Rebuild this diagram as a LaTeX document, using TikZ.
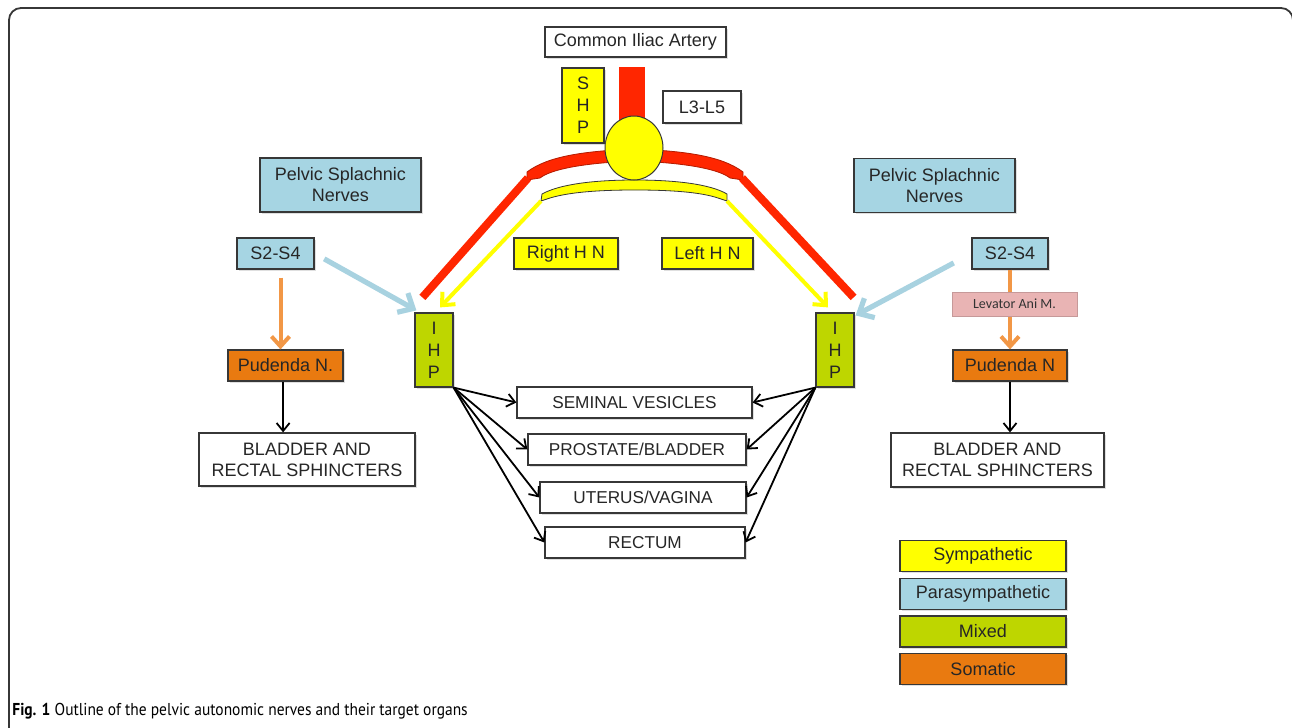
\documentclass[tikz,border=0pt]{standalone}
\usepackage{fontspec}
\setmainfont{Liberation Sans}
\newfontfamily\capfont[FakeStretch=0.9]{PT Sans}
\newfontfamily\calfont{Carlito}
\usepackage{tikz}
\usetikzlibrary{matrix,arrows.meta,shadows,shapes.geometric}
\definecolor{symp}{RGB}{255,255,0}
\definecolor{para}{RGB}{166,213,227}
\definecolor{mixd}{RGB}{190,214,0}
\definecolor{soma}{RGB}{233,122,16}
\definecolor{somaarrow}{RGB}{242,151,70}
\definecolor{paraarrow}{RGB}{168,210,224}
\definecolor{artery}{RGB}{255,38,0}
\definecolor{levator}{RGB}{233,180,180}
\definecolor{boxline}{RGB}{55,55,55}

\begin{document}
\begin{tikzpicture}[x=0.5pt,y=-0.5pt,font=\fontsize{9}{10.5}\selectfont,
box/.style={draw=boxline, line width=0.6pt, fill=white, inner sep=0pt, align=center, text=black!85,
    drop shadow={shadow xshift=0.8pt, shadow yshift=-0.8pt, opacity=0.25}},
organ/.style={box, minimum height=15.5pt, font=\fontsize{8.6}{10}\selectfont},
arteryline/.style={artery, line width=4pt},
hn/.style={symp, line width=2pt, -{Straight Barb[length=5pt,width=9pt]}},
pn/.style={paraarrow, line width=2.6pt, -{Straight Barb[length=6pt,width=11pt]}},
sn/.style={somaarrow, line width=2pt, -{Straight Barb[length=5pt,width=9pt]}},
target/.style={black, line width=0.9pt, -{Straight Barb[length=4pt,width=6.5pt]}},
legend/.style={matrix of nodes, nodes={box, minimum width=83pt, minimum height=15.5pt, anchor=center},
    row sep=2.8pt,
    row 1/.style={nodes={fill=symp}}, row 2/.style={nodes={fill=para}},
    row 3/.style={nodes={fill=mixd}}, row 4/.style={nodes={fill=soma}}}]
\useasboundingbox (0,0) rectangle (1292,728);
\draw[boxline, line width=0.9pt, rounded corners=6pt] (9,745) -- (9,8) -- (1293,8) -- (1293,745);

% arteries and hypogastric plexus
\fill[artery] (619,67) rectangle (645,135);
\filldraw[fill=artery, draw=artery!70!black, line width=0.4pt] (527,180) -- (527,172)
  .. controls (548,156) and (585,151) .. (635,149) .. controls (685,151) and (722,156) .. (743,172)
  -- (743,180) -- (730,178) .. controls (720,170) and (690,163) .. (635,161)
  .. controls (580,163) and (550,170) .. (540,178) -- cycle;
\coordinate (redL) at (528,178);
\coordinate (redR) at (742,178);
\coordinate (yelL) at (541,201);
\coordinate (yelR) at (727,201);
\filldraw[fill=symp, draw=boxline, line width=0.4pt] (541,201) -- (542,194)
  .. controls (560,184) and (595,180) .. (635,180) .. controls (675,180) and (710,184) .. (727,194)
  -- (727,201) -- (718,198) .. controls (700,192) and (670,190) .. (635,190)
  .. controls (600,190) and (570,192) .. (550,198) -- cycle;
\node[ellipse, draw=boxline, line width=0.5pt, fill=symp, minimum width=29pt, minimum height=32pt, inner sep=0pt] (knot) at (634,148) {};

\node[box] (cia) at (635.5,42) [minimum width=90.5pt, minimum height=15pt] {Common Iliac Artery};
\node[box, fill=symp, minimum width=21pt, minimum height=37.5pt, font=\fontsize{9}{11}\selectfont] (shp) at (583,105.5) {S\\H\\P};
\node[box, minimum width=39pt, minimum height=16pt] (lum) at (702,107) {L3-L5};
\node[box, fill=symp, minimum width=52pt, minimum height=15.5pt] (rhn) at (566,253.5) {Right H N};
\node[box, fill=symp, minimum width=45.5pt, minimum height=15.5pt] (lhn) at (707.5,253.5) {Left H N};

\node[box, fill=mixd, minimum width=19pt, minimum height=37pt, font=\fontsize{9}{11}\selectfont] (ihpL) at (434,350) {I\\H\\P};
\node[box, fill=mixd, minimum width=19pt, minimum height=37pt, font=\fontsize{9}{11}\selectfont] (ihpR) at (835,350) {I\\H\\P};

\draw[arteryline] (redL) -- ([shift={(8,-15)}]ihpL.north west);
\draw[arteryline] (redR) -- ([shift={(-1,-15)}]ihpR.north east);
\draw[hn] (yelL) -- ([shift={(6,-5)}]ihpL.north);
\draw[hn] (yelR) -- ([shift={(-7,-5)}]ihpR.north);

% parasympathetic and somatic side
\node[box, fill=para, minimum width=80.5pt, minimum height=27pt] (psnL) at (340.5,185) {Pelvic Splachnic\\Nerves};
\node[box, fill=para, minimum width=80.5pt, minimum height=27pt] (psnR) at (934.5,185.5) {Pelvic Splachnic\\Nerves};
\node[box, fill=para, minimum width=38.5pt, minimum height=15.5pt] (s2L) at (275.5,253.5) {S2-S4};
\node[box, fill=para, minimum width=38pt, minimum height=15.5pt] (s2R) at (1010,253.5) {S2-S4};
\node[box, fill=soma, minimum width=57.5pt, minimum height=15.5pt] (pudL) at (285.5,365.5) {Pudenda N.};
\node[box, fill=soma, minimum width=57pt, minimum height=15.5pt] (pudR) at (1010,365.5) {Pudenda N};
\node[box, minimum width=108pt, minimum height=26.5pt] (bladL) at (307,459.5) {BLADDER AND\\RECTAL SPHINCTERS};
\node[box, minimum width=106.5pt, minimum height=27pt] (bladR) at (997.5,460) {BLADDER AND\\RECTAL SPHINCTERS};

\draw[pn, shorten <=5.5pt] (s2L.east) -- ([shift={(2,-2)}]ihpL.north west);
\draw[pn, shorten <=10pt] (s2R.west) -- ([shift={(1,3)}]ihpR.north east);
\draw[sn, shorten <=4pt] ([xshift=2.5pt]s2L.south) -- ([xshift=-2.5pt]pudL.north);
\draw[sn] (s2R.south) -- (pudR.north);
\node[fill=levator, draw=levator!85!black, line width=0.3pt, minimum width=62.5pt, minimum height=12pt, inner sep=0pt,
  font=\calfont\fontsize{7}{8}\selectfont, text=black!80,
  drop shadow={shadow xshift=0.6pt, shadow yshift=-0.6pt, opacity=0.2}] (lam) at (1014.5,304) {Levator Ani M.};
\draw[target] ([xshift=-1.2pt]pudL.south) -- ([xshift=-1.2pt]pudL.south |- bladL.north);
\draw[target] (pudR.south) -- (pudR.south |- bladR.north);

% target organs
\node[organ, minimum width=117.5pt] (sv) at (634.5,402.5) {SEMINAL VESICLES};
\node[organ, minimum width=109pt] (pb) at (637,449.5) {PROSTATE/BLADDER};
\node[organ, minimum width=103pt] (uv) at (643,497.5) {UTERUS/VAGINA};
\node[organ, minimum width=100pt] (rec) at (645,542.5) {RECTUM};
\foreach \o in {sv,pb,uv,rec}{
  \draw[target] (ihpL.south east) -- (\o.west);
  \draw[target] (ihpR.south west) -- (\o.east);
}

% legend
\matrix[legend] (key) at (983,612.5) {
Sympathetic\\
Parasympathetic\\
Mixed\\
Somatic\\};

\node[anchor=base west, inner sep=0pt, font=\capfont\fontsize{8.6}{10}\selectfont] (caption) at (12,715)
  {\textbf{Fig. 1} Outline of the pelvic autonomic nerves and their target organs};
\end{tikzpicture}
\end{document}
